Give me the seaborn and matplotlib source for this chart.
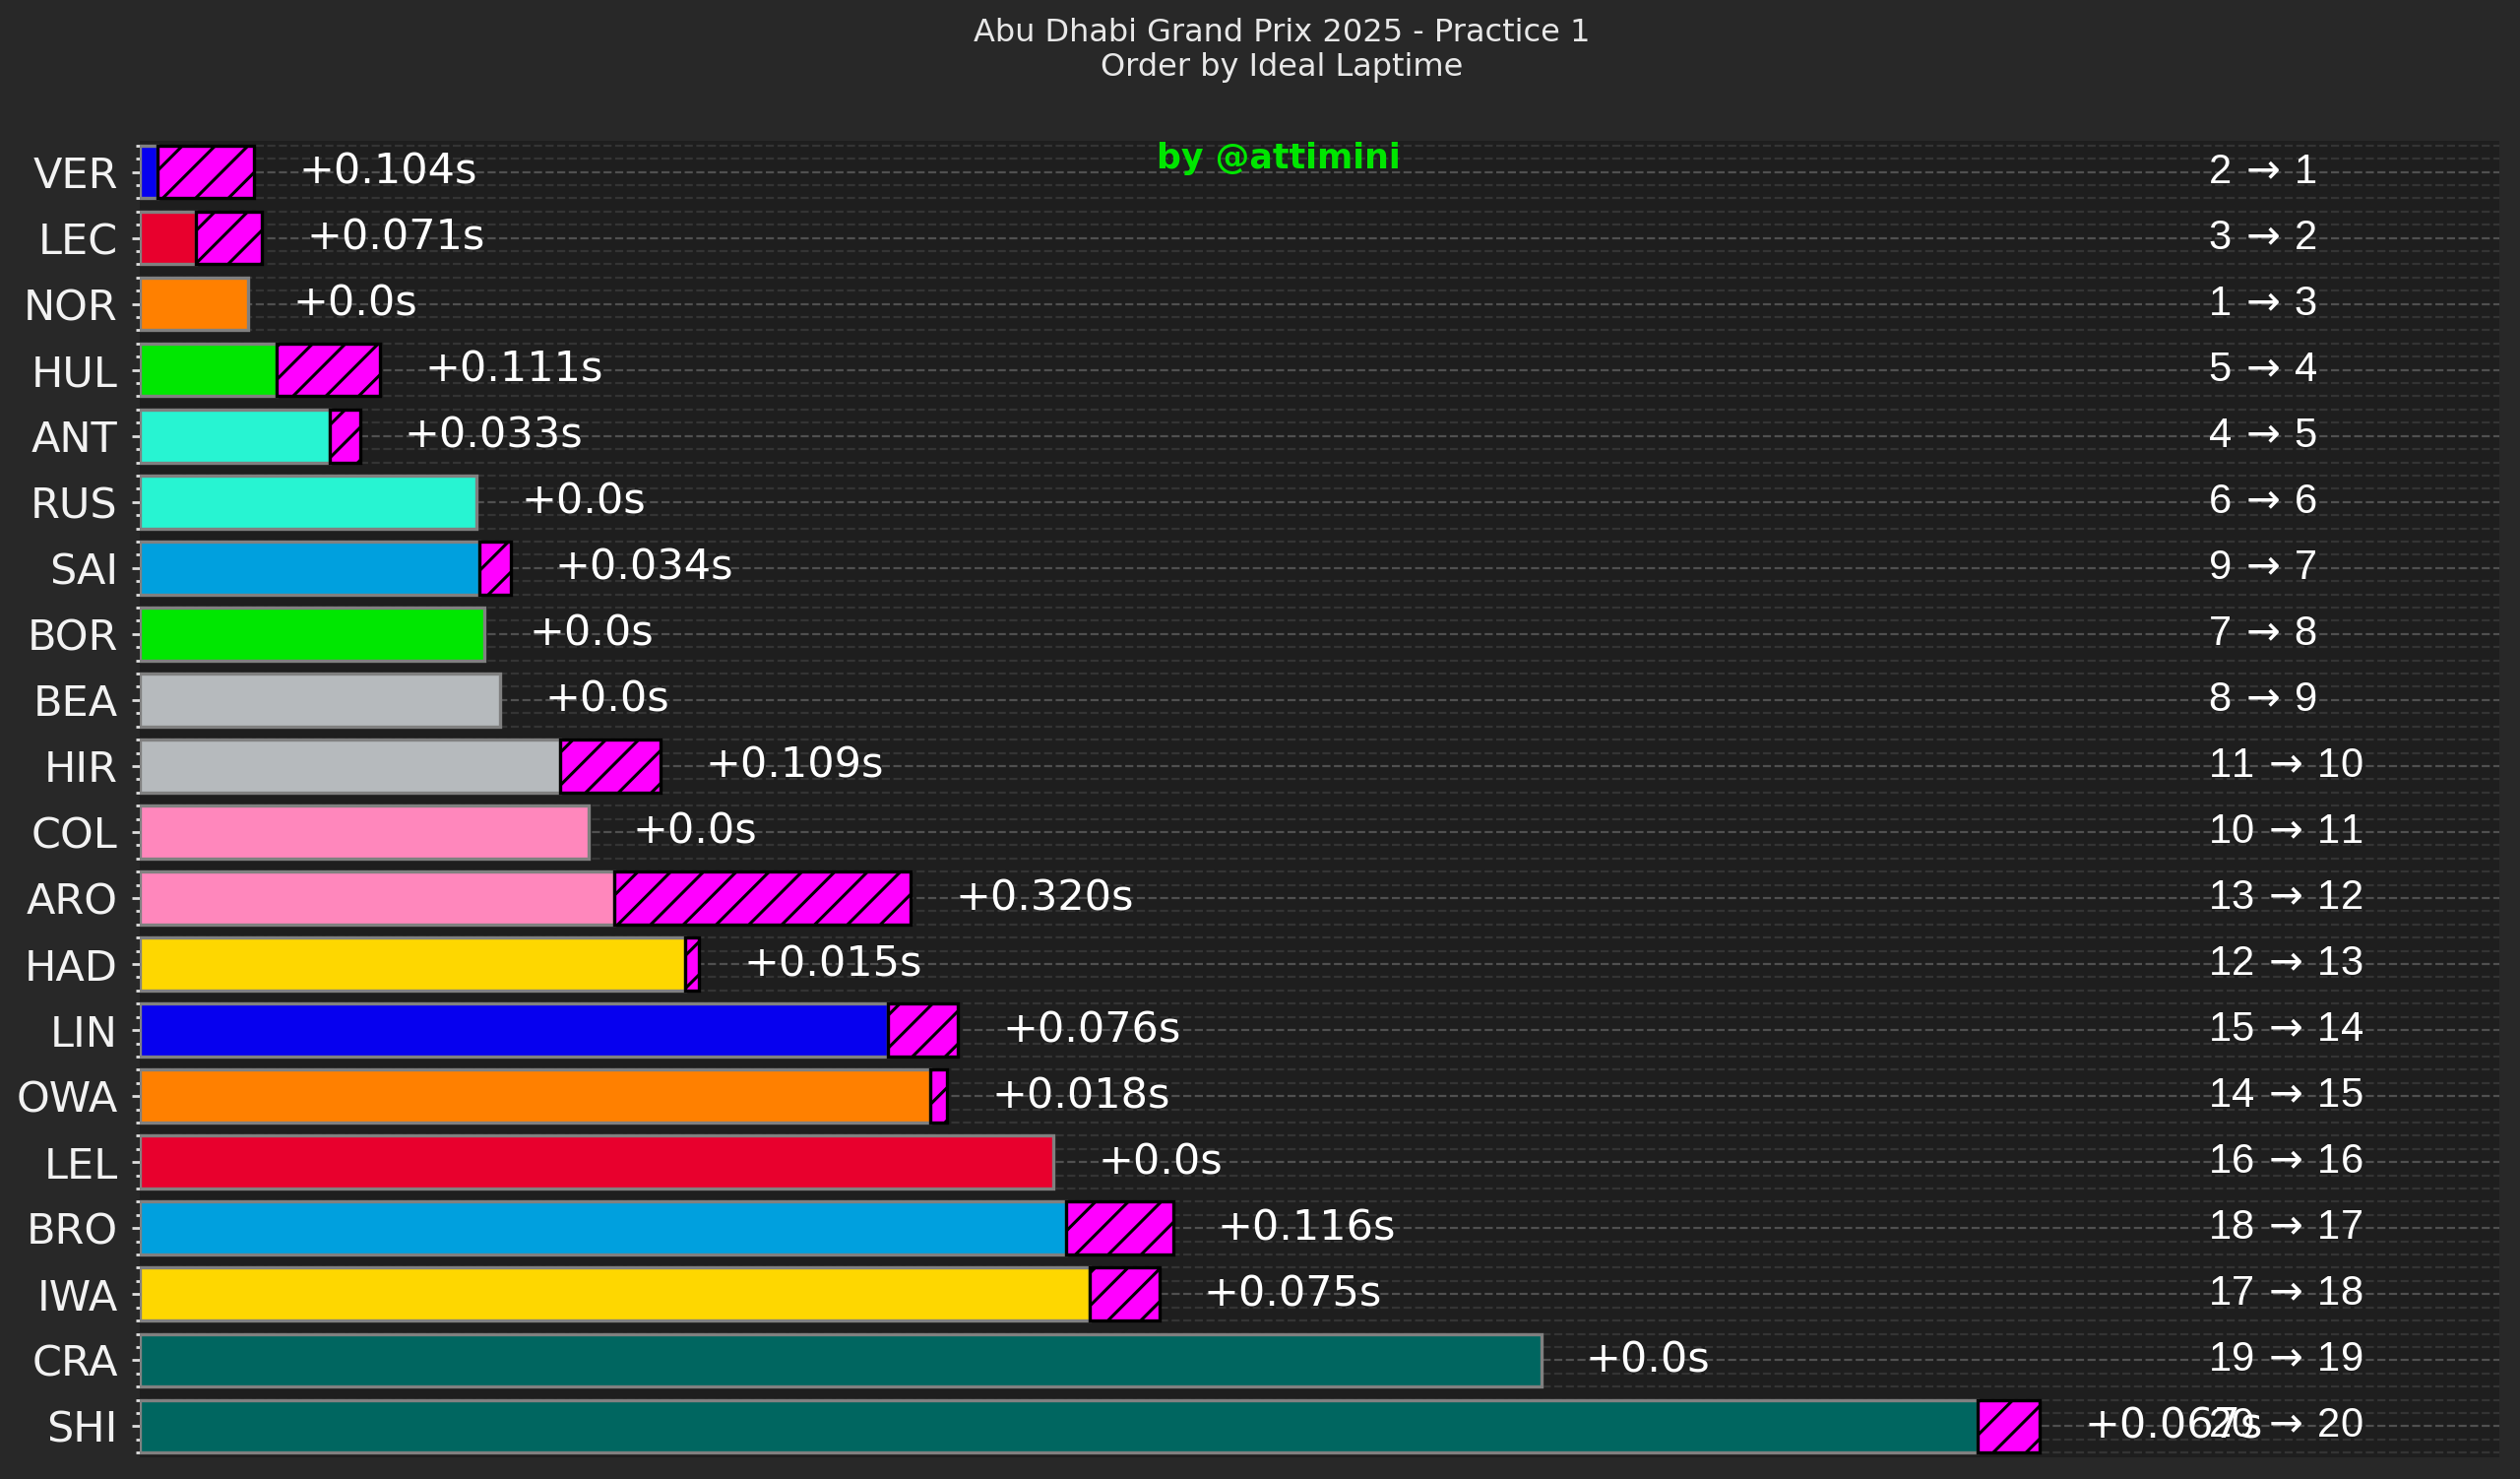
import matplotlib
matplotlib.use("Agg")
import matplotlib.pyplot as plt
from matplotlib.ticker import MultipleLocator
import seaborn as sns
import pandas as pd

drivers = ["VER", "LEC", "NOR", "HUL", "ANT", "RUS", "SAI", "BOR", "BEA", "HIR",
           "COL", "ARO", "HAD", "LIN", "OWA", "LEL", "BRO", "IWA", "CRA", "SHI"]
ideal_gap = [0.019, 0.0605, 0.117, 0.148, 0.2045, 0.363, 0.366, 0.372, 0.3885, 0.453,
             0.484, 0.512, 0.5885, 0.807, 0.853, 0.986, 0.999, 1.025, 1.512, 1.983]
delta = [0.104, 0.071, 0.0, 0.111, 0.033, 0.0, 0.034, 0.0, 0.0, 0.109,
         0.0, 0.320, 0.015, 0.076, 0.018, 0.0, 0.116, 0.075, 0.0, 0.067]
best_rank = [2, 3, 1, 5, 4, 6, 9, 7, 8, 11, 10, 13, 12, 15, 14, 16, 18, 17, 19, 20]
ideal_rank = list(range(1, 21))
team_colors = ["#0600EF", "#E8002D", "#FF8000", "#00E701", "#27F4D2", "#27F4D2",
               "#00A0DE", "#00E701", "#B6BABD", "#B6BABD", "#FF87BC", "#FF87BC",
               "#FED700", "#0600EF", "#FF8000", "#E8002D", "#00A0DE", "#FED700",
               "#006660", "#006660"]

title = "Abu Dhabi Grand Prix 2025 - Practice 1\nOrder by Ideal Laptime"
watermark = "by @attimini"

df = pd.DataFrame({"driver": drivers, "ideal": ideal_gap, "delta": delta})

sns.set_style("dark")
plt.rcParams["font.family"] = ["DejaVu Sans"]
plt.rcParams["mathtext.fontset"] = "dejavusans"
plt.rcParams["hatch.linewidth"] = 1.1

FIG_BG = "#282828"
AX_BG = "#1e1e1e"

fig = plt.figure(figsize=(12.8, 7.51), dpi=200, facecolor=FIG_BG)
ax = fig.add_axes([0.0555, 0.0147, 0.9363, 0.8901])
ax.set_facecolor(AX_BG)

sns.barplot(data=df, x="ideal", y="driver", hue="driver",
            palette=dict(zip(drivers, team_colors)), legend=False,
            orient="h", width=0.8, saturation=1, edgecolor="#808080",
            linewidth=1.2, ax=ax, zorder=3)

ypos = list(range(len(drivers)))
for i in ypos:
    if delta[i] > 0:
        ax.barh(i, delta[i], left=ideal_gap[i], height=0.8, color="#FF00FF",
                edgecolor="black", linewidth=1.2, hatch="//", zorder=4)

for i in ypos:
    total = ideal_gap[i] + delta[i]
    label = f"+{delta[i]:.3f}s" if delta[i] > 0 else "+0.0s"
    ax.text(total + 0.048, i, label, va="center", ha="left", fontsize=15.5,
            color="white", zorder=5)
    ax.text(2.232, i, f"{best_rank[i]}$\\,\\rightarrow\\,${ideal_rank[i]}", va="center",
            ha="left", fontsize=15, color="white",
            family=["Liberation Sans", "DejaVu Sans"], zorder=5)

ax.set_xlim(0, 2.546)
ax.set_ylim(19.47, -0.47)
ax.set_xticks([])
ax.set_xlabel("")
ax.set_ylabel("")
ax.yaxis.set_minor_locator(MultipleLocator(0.2))
ax.tick_params(axis="y", which="major", colors="#dddddd", labelcolor="#f2f2f2",
               labelsize=15.5, length=3, width=1, pad=5, left=True)
ax.tick_params(axis="y", which="minor", colors="#dddddd", length=1.5, width=1, left=True)
ax.set_axisbelow(True)
ax.yaxis.grid(True, which="major", linestyle="--", color="#505050", linewidth=0.8)
ax.yaxis.grid(True, which="minor", linestyle="--", color="#343434", linewidth=0.8)
ax.xaxis.grid(False)
for s in ax.spines.values():
    s.set_visible(False)

fig.text(0.5086, 1 - 51 / 1502, title, ha="center", va="center", fontsize=11.5,
         color="#e8e8e8", linespacing=1.15)
fig.text(0.5074, 1 - 161 / 1502, watermark, ha="center", va="center",
         fontsize=12.5, color="#00E600", fontweight="bold")

fig.savefig("out.png", dpi=200, facecolor=FIG_BG)
